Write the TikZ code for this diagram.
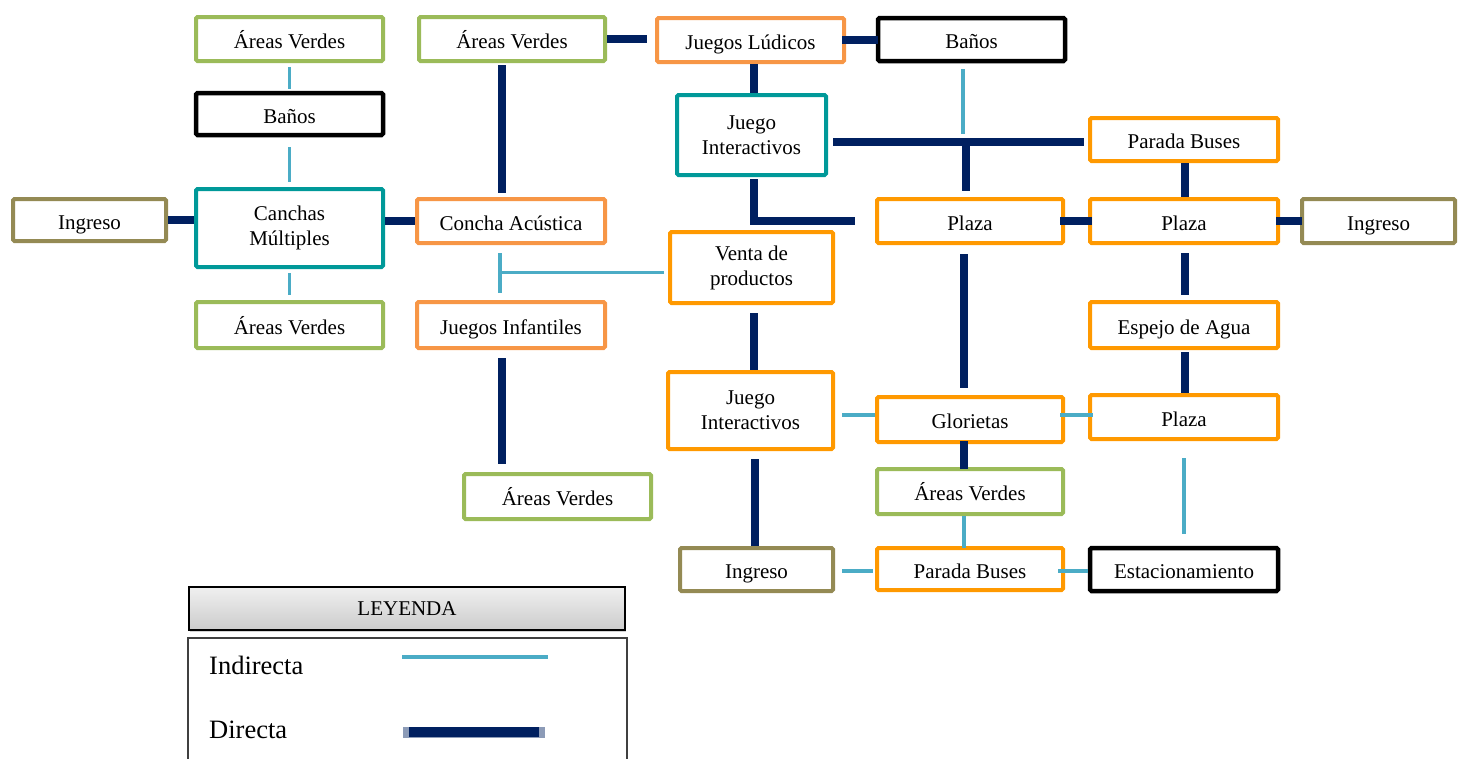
\documentclass[tikz,border=0pt]{standalone}
\usepackage{fontspec}
\setmainfont{Liberation Serif}
\usetikzlibrary{calc,shadows}
\definecolor{cgreen}{HTML}{9BBB59}
\definecolor{cteal}{HTML}{009999}
\definecolor{colive}{HTML}{948A54}
\definecolor{clorange}{HTML}{F79646}
\definecolor{corange}{HTML}{FF9900}
\definecolor{cnavy}{HTML}{002060}
\definecolor{clblue}{HTML}{4BACC6}
\tikzset{
  bx/.style={draw, line width=4pt, fill=white, rounded corners=1.5pt, inner sep=0pt, align=center, font=\fontsize{21}{25}\selectfont},
  one/.style={text height=18pt, text depth=0pt},
  sz/.style 2 args={minimum width=#1pt-4pt, minimum height=#2pt-4pt},
  gbox/.style={bx, draw=cgreen},
  kbox/.style={bx, draw=black, line width=4.5pt},
  tbox/.style={bx, draw=cteal},
  obox/.style={bx, draw=colive},
  lbox/.style={bx, draw=clorange},
  rbox/.style={bx, draw=corange},
  dk/.style={draw=cnavy, line width=8pt},
  lt/.style={draw=clblue, line width=3.5pt},
  legtext/.style={font=\fontsize{26.5}{30}\selectfont, anchor=base west, inner sep=0pt}
}
\begin{document}
\begin{tikzpicture}[x=1pt,y=-1pt]
\useasboundingbox (0,0) rectangle (1465,758);
% left column
\node[gbox, one, sz={191}{48}] (av1) at (289.5,39) {Áreas Verdes};
\node[kbox, one, sz={191}{46}] (ban1) at (289.5,114) {Baños};
\node[tbox, sz={191}{82}] (can) at (289.5,228) {Canchas\\Múltiples};
\node[obox, one, sz={157}{46}] (ing1) at (89.5,220) {Ingreso};
\node[gbox, one, sz={191}{50}] (av2) at (289.5,325) {Áreas Verdes};
% second column
\node[gbox, one, sz={190}{48}] (av3) at (512,39) {Áreas Verdes};
\node[lbox, one, sz={192}{48}] (con) at (511,221) {Concha Acústica};
\node[lbox, one, sz={192}{50}] (jinf) at (511,325) {Juegos Infantiles};
\node[gbox, one, sz={191}{49}] (av4) at (557.5,496.5) {Áreas Verdes};
% third column
\node[lbox, one, sz={191}{48}] (jlud) at (750.5,40) {Juegos Lúdicos};
\node[tbox, sz={153}{84}] (jint1) at (751.5,135) {Juego\\Interactivos};
\node[rbox, sz={167}{75}] (venta) at (751.5,267.5) {Venta de\\productos};
\node[rbox, sz={169}{81}] (jint2) at (750.5,410.5) {Juego\\Interactivos};
\node[obox, one, sz={157}{47}] (ing3) at (756.5,569.5) {Ingreso};
% fourth column
\node[kbox, one, sz={191}{47}] (ban2) at (971.5,39.5) {Baños};
\node[rbox, one, sz={190}{48}] (pl1) at (970,221) {Plaza};
\node[rbox, one, sz={190}{49}] (glo) at (970,419.5) {Glorietas};
\node[gbox, one, sz={190}{49}] (av5) at (970,491.5) {Áreas Verdes};
\node[rbox, one, sz={190}{46}] (pb2) at (970,569) {Parada Buses};
% fifth column
\node[rbox, one, sz={192}{47}] (pb1) at (1184,139.5) {Parada Buses};
\node[rbox, one, sz={192}{48}] (pl2) at (1184,221) {Plaza};
\node[rbox, one, sz={192}{50}] (esp) at (1184,325) {Espejo de Agua};
\node[rbox, one, sz={192}{48}] (pl3) at (1184,417) {Plaza};
\node[kbox, one, sz={192}{47}] (est) at (1184,569.5) {Estacionamiento};
\node[obox, one, sz={157}{48}] (ing2) at (1378.5,221) {Ingreso};
% connectors
\draw[dk] (ing1.east) -- (ing1.east -| can.west);
\draw[dk] (con.west -| can.east) -- (con.west);
\draw[lt, shorten <=4pt, shorten >=2pt] (av1.south) -- (ban1.north);
\draw[lt, shorten <=10pt, shorten >=5pt] (ban1.south) -- (can.north);
\draw[lt, shorten <=4pt, shorten >=5pt] (can.south) -- (av2.north);
\draw[dk, shorten <=2pt, shorten >=4pt] ($(av3.south)+(-10,0)$) -- ($(con.north)+(-9,0)$);
\draw[dk, shorten >=8pt] (av3.east) -- (av3.east -| jlud.west);
\draw[dk, shorten <=-4pt, shorten >=-2pt] (jlud.east) -- (jlud.east -| ban2.west);
\draw[dk] ($(jlud.south)+(3,0)$) -- ($(jint1.north)+(2,0)$);
\coordinate (jn) at ($(pl1.north)+(-4,-55)$);
\draw[dk, shorten <=5pt, shorten >=4pt] (jint1.east |- jn) -- (jn -| pb1.west);
\draw[dk, shorten >=6pt] (jn) -- (jn |- pl1.north);
\draw[lt, shorten <=6pt, shorten >=8pt] ($(ban2.south)+(-8.5,0)$) -- ($(jn)+(-3,0)$);
\coordinate (e1) at ($(jint1.south)+(2.5,2)$);
\draw[dk] (e1) -- (e1 |- pl1.west) -- ($(pl1.west)+(-20,0)$);
\draw[dk, shorten <=-5pt, shorten >=-4pt] (pl1.east) -- (pl2.west);
\draw[dk, shorten <=-4pt, shorten >=-2pt] (pl2.east) -- (ing2.west);
\draw[dk] ($(pb1.south)+(1,0)$) -- ($(pl2.north)+(1,0)$);
\draw[dk, shorten <=8pt, shorten >=5pt] ($(pl2.south)+(1,0)$) -- ($(esp.north)+(1,0)$);
\draw[dk, shorten <=2pt] ($(esp.south)+(1,0)$) -- ($(pl3.north)+(1,0)$);
\draw[lt, shorten <=17pt, shorten >=12pt] (pl3.south) -- (est.north);
\draw[dk, shorten <=9pt, shorten >=7pt] ($(pl1.south)+(-6,0)$) -- ($(glo.north)+(-6,0)$);
\coordinate (tee) at ($(con.south)!0.5!(jinf.north)+(-11,0)$);
\draw[lt, shorten <=4pt] ($(venta.west)+(0,5)$) -- (tee);
\draw[lt, shorten <=8pt, shorten >=7pt] (tee |- con.south) -- (tee |- jinf.north);
\draw[dk, shorten <=8pt] ($(venta.south)+(2.5,0)$) -- ($(jint2.north)+(3.5,0)$);
\draw[dk, shorten <=8pt, shorten >=8pt] ($(jinf.south)+(-9,0)$) -- ($(av4.north)+(-55.5,0)$);
\coordinate (g1) at ($(glo.west)+(0,-4.5)$);
\draw[lt, shorten <=7pt] (g1 -| jint2.east) -- (g1);
\draw[lt, shorten <=-5pt, shorten >=-5pt] (glo.east |- g1) -- (g1 -| pl3.west);
\draw[dk, shorten <=-3pt, shorten >=-2pt] ($(glo.south)+(-6,0)$) -- ($(av5.north)+(-6,0)$);
\draw[lt, shorten >=-2pt] ($(av5.south)+(-6,0)$) -- ($(pb2.north)+(-6,0)$);
\draw[dk, shorten <=8pt] ($(jint2.south)+(4.5,0)$) -- ($(ing3.north)+(-1.5,0)$);
\coordinate (p1) at ($(pb2.west)+(0,2)$);
\draw[lt, shorten <=7pt, shorten >=2pt] (p1 -| ing3.east) -- (p1);
\draw[lt, shorten <=-7pt] (pb2.east |- p1) -- (p1 -| est.west);
% legend
\node[draw=black, line width=2pt, top color=gray!12, bottom color=gray!40, drop shadow={shadow xshift=1pt, shadow yshift=-2pt, opacity=0.35}, minimum width=436pt, minimum height=43pt, inner sep=0pt, font=\fontsize{21}{25}\selectfont] (leg) at (407,608.5) {LEYENDA};
\coordinate (b1) at (188,760);
\coordinate (b2) at (188,638);
\coordinate (b3) at (627,638);
\coordinate (b4) at (627,760);
\draw[line width=1.5pt, black!75] (b1) -- (b2) -- (b3) -- (b4);
\node[legtext] (ind) at (209,674) {Indirecta};
\node[legtext] (dir) at (209,738) {Directa};
\coordinate (li1) at (402,657);
\coordinate (li2) at (548,657);
\draw[lt] (li1) -- (li2);
\coordinate (ld1) at (403,732);
\coordinate (ld2) at (545,732);
\coordinate (ld3) at (409,732);
\coordinate (ld4) at (539,732);
\draw[line width=11pt, cnavy!45] (ld1) -- (ld2);
\draw[line width=10pt, cnavy] (ld3) -- (ld4);
\end{tikzpicture}
\end{document}
